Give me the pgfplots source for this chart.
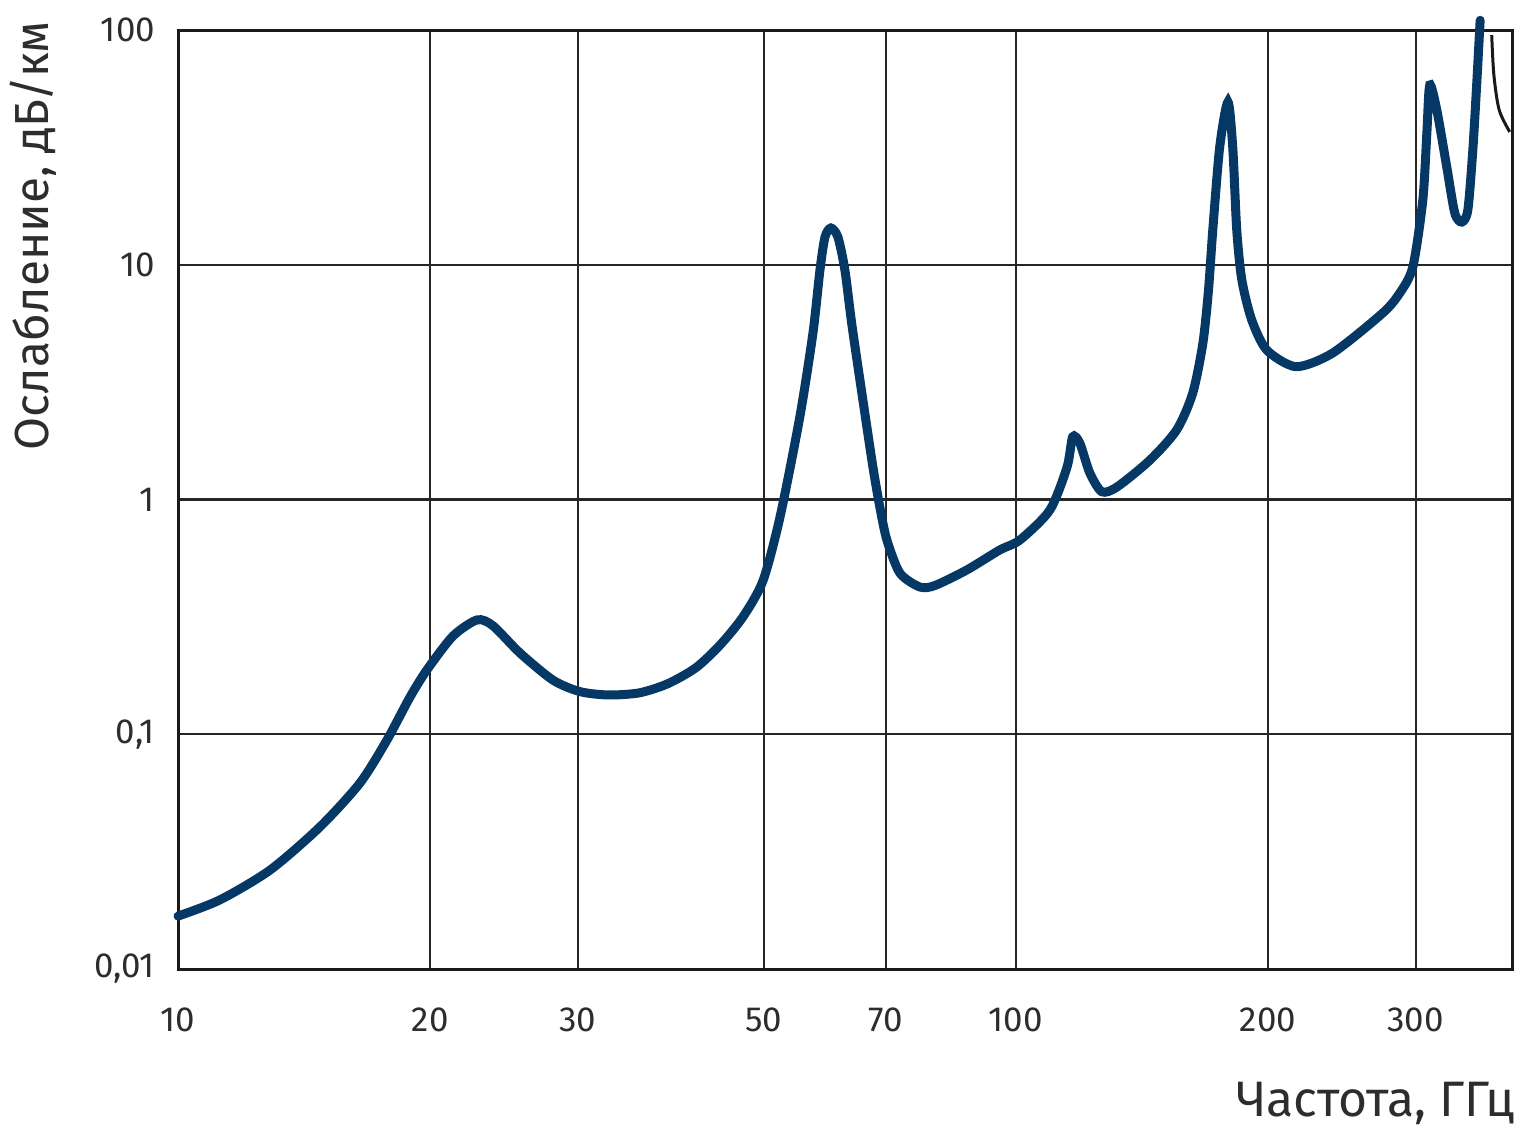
\documentclass[border=0pt]{standalone}
\usepackage{fontspec}
\setmainfont{Fira Sans}
\usepackage{pgfplots}
\pgfplotsset{compat=1.18}
\definecolor{navy}{RGB}{6,56,102}
\definecolor{txt}{RGB}{45,45,45}
\begin{document}
\begin{tikzpicture}
\useasboundingbox (-89bp,-79bp) rectangle (669.5bp,484.5bp);
\begin{axis}[
  at={(0,0)}, anchor=south west,
  scale only axis, width=667bp, height=469.5bp,
  xmode=log, ymode=log,
  xmin=10, xmax=391, ymin=0.01, ymax=100,
  xtick={10,20,30,50,70,100,200,300},
  xticklabels={10,20,30,50,70,100,200,300},
  ytick={0.01,0.1,1,10,100},
  yticklabels={{0,01},{0,1},1,10,100},
  major tick length=0pt, minor tick length=0pt,
  grid=major,
  major grid style={line width=1.1bp, color=black!85},
  axis line style={line width=1.5bp, color=black!90},
  tick label style={font=\fontsize{17.5}{19}\selectfont, text=txt},
  xticklabel style={yshift=-16bp},
  yticklabel style={xshift=-8bp},
  xlabel={Частота, ГГц},
  ylabel={Ослабление, дБ/км},
  xlabel style={font=\fontsize{25}{27}\selectfont, text=txt, at={(axis description cs:1,-0.1427)}, anchor=east, xshift=5bp},
  ylabel style={font=\fontsize{24}{26}\selectfont, text=txt, at={(axis description cs:-0.1087,1.017)}, anchor=east},
  clip=false,
]
\addplot[navy, line width=4.5bp, smooth, tension=0.45, line cap=round] coordinates {
(10.0,0.0168) (11.22,0.0197) (12.88,0.0264) (14.77,0.0403) (16.49,0.0620)
(17.76,0.0945) (18.92,0.144) (19.82,0.188) (21.29,0.262) (22.75,0.307)
(23.76,0.290) (25.59,0.222) (28.03,0.170) (30.17,0.152) (32.6,0.147)
(35.5,0.150) (38.4,0.164) (41.5,0.192) (44.36,0.240) (47.23,0.316) (49.90,0.450)
(52.30,0.842) (55.23,2.25) (57.26,5.12) (58.37,9.50) (59.18,13.13) (60.15,14.34)
(61.32,13.13) (62.51,9.50) (63.73,5.54) (65.68,2.65) (67.52,1.375) (68.81,0.929)
(70.16,0.672) (72.71,0.486) (76.80,0.424) (80.03,0.430) (87.39,0.501) (95.69,0.610)
(101.1,0.672) (109.8,0.902) (115.1,1.375) (116.9,1.85) (119.2,1.74) (122.5,1.30)
(126.6,1.08) (132.0,1.13) (144.5,1.47) (155.6,1.98) (162.6,2.84) (167.2,4.64)
(169.8,7.8) (171.8,14.06) (175.1,31.7) (179.1,49.4) (181.5,31.7)
(183.5,14.06) (186.1,8.61) (191.2,5.82) (199.3,4.33) (216.0,3.68)
(238.9,4.21) (274.1,6.23) (287.2,7.58) (297.7,9.78) (306.0,18.87) (309.4,36.4)
(311.9,58.3) (318.0,45.6) (326.8,26.1) (334.1,16.6) (340.6,15.2) (346.3,17.1)
(351.1,30.8) (354.9,59.5) (358.2,110)
};
\addplot[black!90, line width=1.5bp, smooth] coordinates {
(369.8,95.2) (372.0,64.3) (377.5,45.6) (388.6,36.8)
};
\end{axis}
\end{tikzpicture}
\end{document}
